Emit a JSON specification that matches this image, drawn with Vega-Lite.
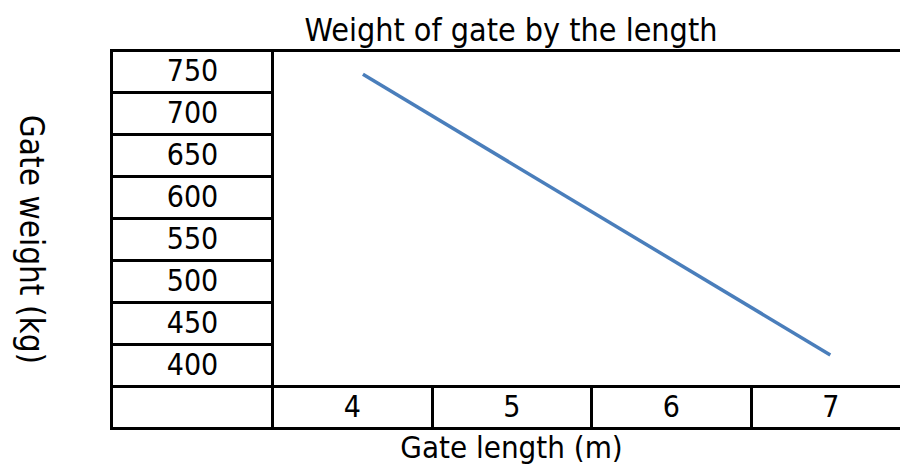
{
  "$schema": "https://vega.github.io/schema/vega-lite/v6.json",
  "width": 628,
  "height": 378,
  "autosize": {"type": "none"},
  "padding": {"left": 272, "top": 50, "right": 0, "bottom": 37},
  "background": "white",
  "config": {"view": {"stroke": null}, "font": "DejaVu Sans Condensed"},
  "title": {"text": "Weight of gate by the length", "fontSize": 32, "fontWeight": "normal", "color": "black", "anchor": "middle", "frame": "group", "dx": -75, "dy": 36, "baseline": "alphabetic", "offset": 11},
  "data": {"values": [{"length": 4.07, "weight": 746}, {"length": 7, "weight": 412}]},
  "layer": [
    {
      "mark": {"type": "line", "color": "#4a7ebb", "strokeWidth": 3.5},
      "encoding": {
        "x": {"field": "length", "type": "quantitative", "scale": {"domain": [3.5, 7.437], "nice": false, "zero": false},
          "axis": {"orient": "bottom", "values": [4, 5, 6, 7], "ticks": false, "domain": false, "grid": false, "labelPadding": -21, "labelBaseline": "middle", "labelFontSize": 30, "labelColor": "black", "title": "Gate length (m)", "titleX": 239, "titleAlign": "center", "titleFontSize": 31, "titleFontWeight": "normal", "titleColor": "black", "titlePadding": 5}},
        "y": {"field": "weight", "type": "quantitative", "scale": {"domain": [325, 775], "nice": false, "zero": false},
          "axis": {"orient": "left", "values": [400, 450, 500, 550, 600, 650, 700, 750], "ticks": false, "domain": false, "grid": false, "labelAlign": "center", "labelBaseline": "middle", "labelPadding": 80, "labelFontSize": 30, "labelColor": "black", "title": null}}
      }
    },
    {
      "mark": {"type": "line", "opacity": 0},
      "encoding": {
        "x": {"field": "length", "type": "quantitative", "scale": {"domain": [3.5, 7.437], "nice": false, "zero": false},
          "axis": {"orient": "bottom", "values": [3.5, 4.5, 5.5, 6.5], "ticks": true, "tickSize": -42, "tickWidth": 3, "tickColor": "black", "tickCap": "square", "domain": true, "domainColor": "black", "domainWidth": 3, "domainCap": "square", "labels": false, "grid": false, "title": null}},
        "y": {"field": "weight", "type": "quantitative", "scale": {"domain": [325, 775], "nice": false, "zero": false},
          "axis": {"orient": "left", "values": [325, 375, 425, 475, 525, 575, 625, 675, 725, 775], "ticks": true, "tickSize": 161, "tickWidth": 3, "tickColor": "black", "tickCap": "square", "domain": true, "domainColor": "black", "domainWidth": 3, "domainCap": "square", "labels": false, "grid": true, "gridColor": "black", "gridWidth": 3, "gridOpacity": {"condition": {"test": "datum.value === 375", "value": 1}, "value": 0}, "title": null}}
      }
    },
    {
      "mark": {"type": "line", "opacity": 0},
      "encoding": {
        "x": {"field": "length", "type": "quantitative", "scale": {"domain": [3.5, 7.437], "nice": false, "zero": false},
          "axis": {"orient": "top", "ticks": false, "labels": false, "grid": false, "domain": true, "domainColor": "black", "domainWidth": 3, "domainCap": "square", "title": null}},
        "y": {"field": "weight", "type": "quantitative", "scale": {"domain": [325, 775], "nice": false, "zero": false},
          "axis": {"orient": "left", "offset": 161, "ticks": false, "labels": false, "grid": false, "domain": true, "domainColor": "black", "domainWidth": 3, "domainCap": "square", "title": "Gate weight (kg)", "titleAngle": 90, "titleBaseline": "top", "titleFontSize": 33, "titleFontWeight": "normal", "titleColor": "black", "titlePadding": 66}}
      }
    }
  ],
  "resolve": {"axis": {"x": "independent", "y": "independent"}}
}
